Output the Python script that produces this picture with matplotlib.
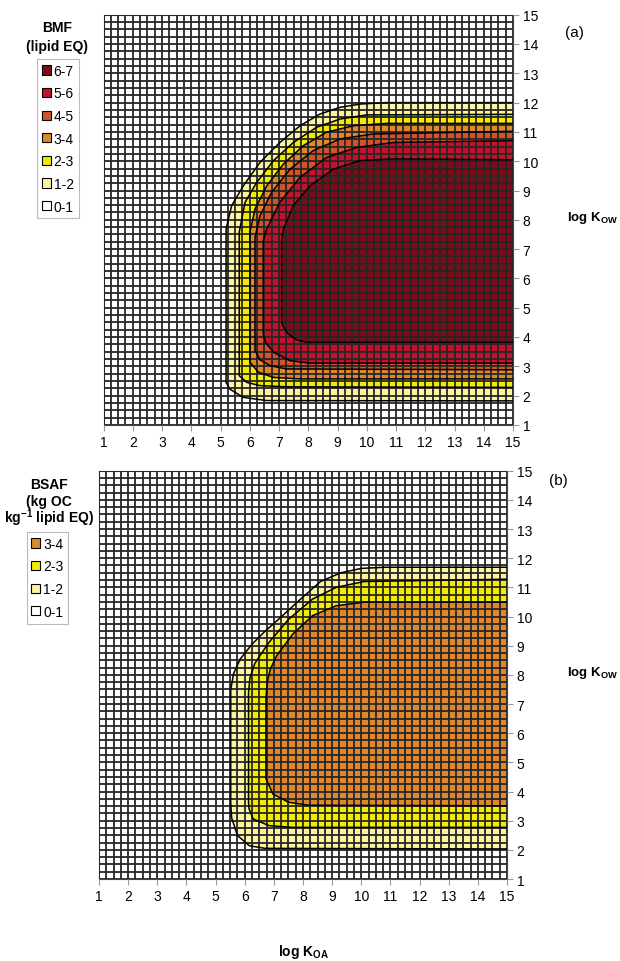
import matplotlib
matplotlib.use("Agg")
import matplotlib.pyplot as plt
from matplotlib.patches import Patch
from matplotlib.ticker import MultipleLocator

plt.rcParams["font.family"] = ["Liberation Sans", "DejaVu Sans"]
plt.rcParams["mathtext.fontset"] = "custom"
plt.rcParams["mathtext.rm"] = "Liberation Sans"
plt.rcParams["mathtext.bf"] = "Liberation Sans:bold"

W, H = 620, 962  # output size in px

# class colours
COLORS = {
    "6-7": "#7b0d16",
    "5-6": "#c8102a",
    "4-5": "#d4522a",
    "3-4": "#e0862c",
    "2-3": "#f2ea00",
    "1-2": "#fbf3a0",
    "0-1": "#ffffff",
}
BMF_CLASSES = ["6-7", "5-6", "4-5", "3-4", "2-3", "1-2", "0-1"]
BSAF_CLASSES = ["3-4", "2-3", "1-2", "0-1"]

# contour boundaries as (log KOA, log KOW),
# traced from the right edge along the bottom, up the left side, to the top
# (a) BMF
BMF_1_X = [15, 6.58, 5.78, 5.32, 5.19, 5.19, 5.38, 5.78, 6.35, 7.03, 7.72, 8.4, 9.09, 9.77, 10.68, 15]
BMF_1_Y = [1.82, 1.83, 1.94, 2.22, 2.45, 7.69, 8.48, 9.16, 9.96, 10.64, 11.21, 11.61, 11.84, 11.95, 12.0, 12.0]
BMF_2_X = [15, 7.26, 6.35, 5.9, 5.64, 5.64, 5.84, 6.24, 6.81, 7.49, 8.29, 9.09, 10.0, 15]
BMF_2_Y = [2.28, 2.3, 2.34, 2.45, 2.68, 7.58, 8.6, 9.28, 10.02, 10.64, 11.16, 11.44, 11.58, 11.6]
BMF_3_X = [15, 7.72, 6.81, 6.29, 6.01, 6.01, 6.18, 6.58, 7.15, 7.83, 8.63, 9.54, 10.68, 15]
BMF_3_Y = [2.57, 2.57, 2.62, 2.8, 3.14, 7.6, 8.37, 9.16, 9.9, 10.53, 10.99, 11.21, 11.29, 11.29]
BMF_4_X = [15, 7.26, 6.7, 6.35, 6.18, 6.18, 6.35, 6.75, 7.38, 8.17, 9.09, 10.22, 15]
BMF_4_Y = [2.88, 2.91, 3.02, 3.22, 3.55, 7.4, 8.14, 8.94, 9.73, 10.36, 10.76, 10.93, 11.02]
BMF_5_X = [15, 8.05, 7.38, 6.81, 6.55, 6.46, 6.46, 6.58, 7.03, 7.72, 8.63, 9.66, 10.91, 15]
BMF_5_Y = [3.11, 3.11, 3.19, 3.48, 3.8, 4.1, 7.3, 7.69, 8.6, 9.45, 10.13, 10.47, 10.64, 10.7]
BMF_6_X = [15, 7.95, 7.6, 7.3, 7.12, 7.09, 7.09, 7.15, 7.49, 8.06, 8.86, 9.77, 10.91, 15]
BMF_6_Y = [3.82, 3.82, 3.9, 4.12, 4.4, 4.61, 7.3, 7.69, 8.48, 9.16, 9.73, 10.02, 10.08, 10.05]

# (b) BSAF
BSAF_1_X = [15, 6.7, 6.16, 5.75, 5.55, 5.52, 5.52, 5.62, 5.85, 6.25, 6.7, 7.1, 7.92, 8.6, 9.3, 10.0, 10.8, 15]
BSAF_1_Y = [2.03, 2.05, 2.14, 2.49, 3.1, 3.6, 7.5, 8.05, 8.55, 9.05, 9.5, 9.85, 10.6, 11.2, 11.5, 11.65, 11.69, 11.69]
BSAF_2_X = [15, 7.65, 6.83, 6.29, 6.15, 6.13, 6.13, 6.18, 6.35, 6.83, 7.51, 8.33, 9.14, 10.09, 15]
BSAF_2_Y = [2.77, 2.77, 2.83, 3.06, 3.4, 3.63, 7.4, 7.9, 8.4, 9.11, 9.91, 10.6, 11.0, 11.2, 11.28]
BSAF_3_X = [15, 8.19, 7.51, 6.97, 6.73, 6.73, 6.77, 6.88, 7.1, 7.65, 8.33, 9.14, 10.09, 15]
BSAF_3_Y = [3.51, 3.53, 3.63, 3.91, 4.43, 7.2, 7.74, 8.2, 8.66, 9.4, 10.03, 10.37, 10.49, 10.49]


def fx(px):
    return px / W


def fy(py):
    return 1 - py / H


def add_panel(left, top, right, bottom):
    return plt.gcf().add_axes([fx(left), fy(bottom), fx(right) - fx(left), fy(top) - fy(bottom)])


def draw_panel(ax, bounds, classes):
    # bounds go from the lowest class upward
    for (xs, ys), cls in zip(bounds, classes):
        ax.fill(xs, ys, facecolor=COLORS[cls], edgecolor="none", zorder=1)
    for xs, ys in bounds:
        ax.plot(xs, ys, color="black", lw=1.1, zorder=3)
    ax.set_xlim(1, 15)
    ax.set_ylim(1, 15)
    for axis in (ax.xaxis, ax.yaxis):
        axis.set_major_locator(MultipleLocator(1))
        axis.set_minor_locator(MultipleLocator(0.25))
    ax.set_axisbelow(False)
    ax.grid(which="both", color="#262626", lw=1.3)
    ax.yaxis.tick_right()
    ax.tick_params(which="minor", length=0)
    ax.tick_params(which="major", length=4, width=0.8, color="#999999",
                   labelsize=10, pad=3)
    for sp in ax.spines.values():
        sp.set_color("#444444")
        sp.set_linewidth(0.8)


def add_legend(fig, classes, x, y):
    handles = [Patch(facecolor=COLORS[c], edgecolor="black", lw=0.8, label=c) for c in classes]
    leg = fig.legend(handles=handles, loc="upper left", bbox_to_anchor=(fx(x), fy(y)),
                     frameon=True, fancybox=False, edgecolor="#aaaaaa", fontsize=10,
                     handlelength=0.65, handleheight=0.65, handletextpad=0.2,
                     labelspacing=0.62, borderpad=0.35, borderaxespad=0)
    leg.get_frame().set_linewidth(0.8)
    return leg


fig = plt.figure(figsize=(W / 100, H / 100), dpi=100)

# (a) BMF
ax_a = add_panel(103.5, 15.7, 513, 425.9)
draw_panel(ax_a,
           [(BMF_1_X, BMF_1_Y), (BMF_2_X, BMF_2_Y), (BMF_3_X, BMF_3_Y),
            (BMF_4_X, BMF_4_Y), (BMF_5_X, BMF_5_Y), (BMF_6_X, BMF_6_Y)],
           ["1-2", "2-3", "3-4", "4-5", "5-6", "6-7"])
fig.text(fx(57), fy(28), "BMF", ha="center", va="center", fontsize=10, fontweight="bold")
fig.text(fx(57), fy(47), "(lipid EQ)", ha="center", va="center", fontsize=10, fontweight="bold")
add_legend(fig, BMF_CLASSES, 37, 60)
fig.text(fx(565), fy(33), "(a)", ha="left", va="center", fontsize=11)
fig.text(fx(567), fy(218), r"log K$_{\mathbf{OW}}$", ha="left", va="center",
         fontsize=9.5, fontweight="bold")

# (b) BSAF
ax_b = add_panel(99, 471.7, 507, 880)
draw_panel(ax_b,
           [(BSAF_1_X, BSAF_1_Y), (BSAF_2_X, BSAF_2_Y), (BSAF_3_X, BSAF_3_Y)],
           ["1-2", "2-3", "3-4"])
fig.text(fx(49), fy(485), "BSAF", ha="center", va="center", fontsize=10, fontweight="bold")
fig.text(fx(49), fy(502), "(kg OC", ha="center", va="center", fontsize=10, fontweight="bold")
fig.text(fx(49), fy(518), r"kg$^{\mathbf{-1}}$ lipid EQ)", ha="center", va="center",
         fontsize=10, fontweight="bold")
add_legend(fig, BSAF_CLASSES, 26.5, 533)
fig.text(fx(549), fy(481), "(b)", ha="left", va="center", fontsize=11)
fig.text(fx(567), fy(673), r"log K$_{\mathbf{OW}}$", ha="left", va="center",
         fontsize=9.5, fontweight="bold")

fig.text(fx(304), fy(952), r"log K$_{\mathbf{OA}}$", ha="center", va="center",
         fontsize=10, fontweight="bold")

fig.savefig("out.png", dpi=100)
